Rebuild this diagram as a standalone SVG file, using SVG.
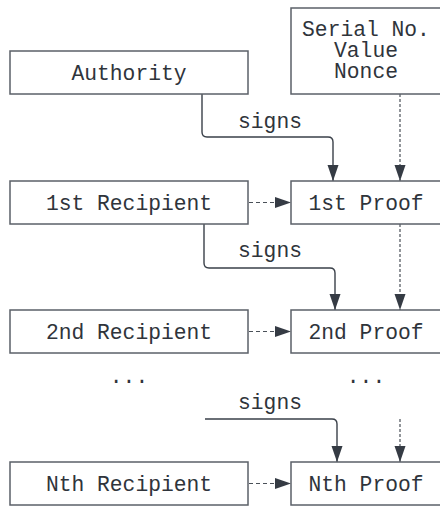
<svg xmlns="http://www.w3.org/2000/svg" width="440" height="508" viewBox="0 0 440 508">
<style>
.box{fill:#fff;stroke:#5b6068;stroke-width:1.5}
.t{font-family:"Liberation Mono","DejaVu Sans Mono",monospace;font-size:21.3px;fill:#2f343b;text-anchor:middle}
.c{fill:none;stroke:#3a4049;stroke-width:1.4}
.dot{fill:none;stroke:#4a5058;stroke-width:1.2;stroke-dasharray:3,2}
.dash{fill:none;stroke:#4a5058;stroke-width:1.2;stroke-dasharray:4,3}
</style>
<defs>
<marker id="ah" markerUnits="userSpaceOnUse" markerWidth="17" markerHeight="12" refX="16" refY="6" orient="auto">
<path d="M0,0.5 L16,6 L0,11.5 z" fill="#353b44"/>
</marker>
</defs>
<rect width="440" height="508" fill="#fff"/>
<g id="connectors">
<path class="c" d="M202,94 V132 Q202,137 207,137 H328 Q333,137 333,142 V181" marker-end="url(#ah)"/>
<path class="dot" d="M400,94 V181" marker-end="url(#ah)"/>
<path class="dash" d="M249,202.5 H291" marker-end="url(#ah)"/>
<path class="c" d="M204,224 V263 Q204,268 209,268 H330 Q335,268 335,273 V310" marker-end="url(#ah)"/>
<path class="dot" d="M400,224 V310" marker-end="url(#ah)"/>
<path class="dash" d="M249,331.5 H291" marker-end="url(#ah)"/>
<path class="c" d="M205,419 H332 Q337,419 337,424 V462" marker-end="url(#ah)"/>
<path class="dot" d="M400,419 V462" marker-end="url(#ah)"/>
<path class="dash" d="M249,483.5 H291" marker-end="url(#ah)"/>
<text class="t" x="270" y="128">signs</text>
<text class="t" x="270" y="257">signs</text>
<text class="t" x="270" y="409">signs</text>
</g>
<g id="serial"><rect class="box" x="291" y="8" width="151" height="86"/>
<text class="t" x="366" y="36">Serial No.</text><text class="t" x="366" y="57">Value</text><text class="t" x="366" y="78">Nonce</text></g>
<g id="authority"><rect class="box" x="10" y="51" width="238" height="43"/><text class="t" x="129" y="80">Authority</text></g>
<g id="r1"><rect class="box" x="10" y="181" width="238" height="43"/><text class="t" x="129" y="210">1st Recipient</text></g>
<g id="p1"><rect class="box" x="291" y="181" width="151" height="43"/><text class="t" x="366" y="210">1st Proof</text></g>
<g id="r2"><rect class="box" x="10" y="310" width="238" height="43"/><text class="t" x="129" y="339">2nd Recipient</text></g>
<g id="p2"><rect class="box" x="291" y="310" width="151" height="43"/><text class="t" x="366" y="339">2nd Proof</text></g>
<g id="dots"><text class="t" x="129" y="383">...</text><text class="t" x="366" y="383">...</text></g>
<g id="rn"><rect class="box" x="10" y="462" width="238" height="43"/><text class="t" x="129" y="491">Nth Recipient</text></g>
<g id="pn"><rect class="box" x="291" y="462" width="151" height="43"/><text class="t" x="366" y="491">Nth Proof</text></g>
</svg>
